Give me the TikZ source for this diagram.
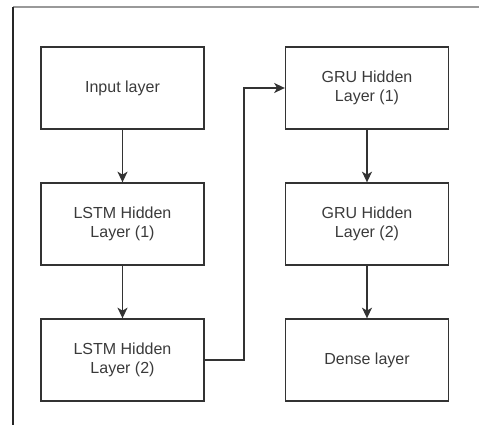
\documentclass[tikz,border=0pt]{standalone}
\usepackage{fontspec}
\setmainfont{Liberation Sans}
\usetikzlibrary{arrows.meta}
\definecolor{edge}{HTML}{333333}
\definecolor{txt}{HTML}{3A3A3A}
\begin{document}
\begin{tikzpicture}[x=0.75pt,y=-0.75pt,
  layerbox/.style={draw=edge,line width=1pt,minimum width=163*0.75pt,minimum height=82*0.75pt,
    inner sep=0pt,align=center,text=txt,font=\fontsize{12}{14.5}\selectfont},
  flow/.style={draw=edge,line width=1pt,-{Stealth[length=8pt,width=7.5pt,inset=2.2pt]}}]
  \useasboundingbox (0,0) rectangle (479,425);
  % frame edges
  \draw[gray!80,line width=1pt] (13,7) -- (479,7);
  \draw[black!85,line width=1.2pt] (13,7) -- (13,425);
  % left column
  \node[layerbox] (inp) at (122.5,88) {Input layer};
  \node[layerbox] (l1) at (122.5,224) {LSTM Hidden\\Layer (1)};
  \node[layerbox] (l2) at (122.5,360) {LSTM Hidden\\Layer (2)};
  % right column
  \node[layerbox] (g1) at (367,88) {GRU Hidden\\Layer (1)};
  \node[layerbox] (g2) at (367,224) {GRU Hidden\\Layer (2)};
  \node[layerbox] (den) at (367,360) {Dense layer};
  % connectors
  \draw[flow] (inp) -- (l1);
  \draw[flow] (l1) -- (l2);
  \draw[flow] (l2.east) -- (244,360) -- (244,88) -- (g1.west);
  \draw[flow] (g1) -- (g2);
  \draw[flow] (g2) -- (den);
\end{tikzpicture}
\end{document}
